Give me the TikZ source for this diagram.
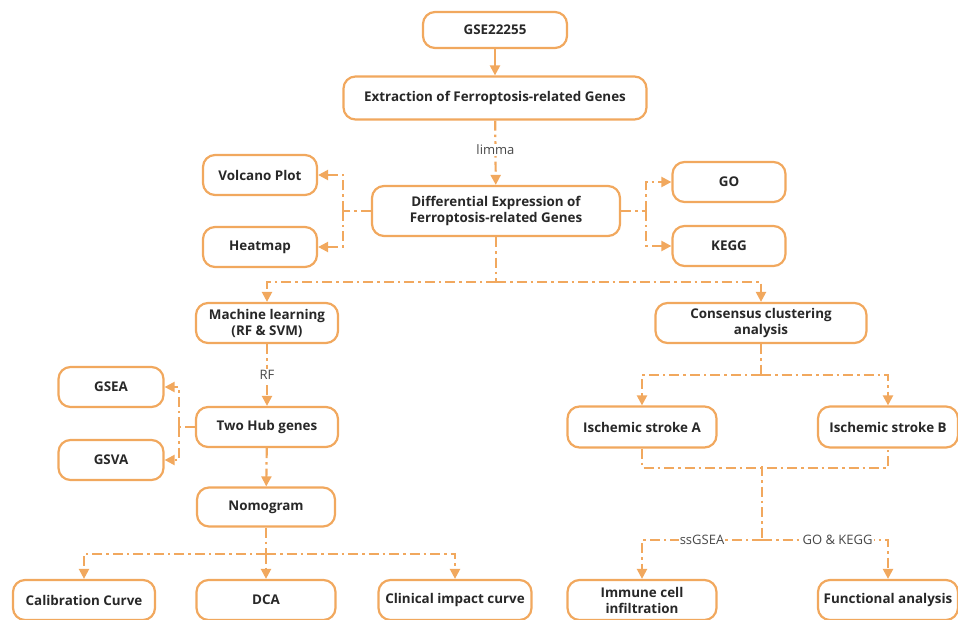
\documentclass[tikz,border=0pt]{standalone}
\usepackage{fontspec}
\setmainfont{Open Sans}
\usetikzlibrary{arrows.meta}
\definecolor{FlowOrange}{RGB}{241,168,94}
\definecolor{FlowText}{RGB}{40,40,40}

\begin{document}
\begin{tikzpicture}[x=1pt,y=-1pt,>={Triangle[length=10pt,width=10pt]},
    box/.style={draw=FlowOrange,line width=2.2pt,fill=white,rounded corners=12pt,align=center,
      text=FlowText,font=\fontsize{13.4}{16}\selectfont\bfseries,inner sep=2pt},
    link/.style={FlowOrange,line width=2.2pt,dash pattern=on 10pt off 4pt on 2.5pt off 4pt},
    lbl/.style={fill=white,text=FlowText!85,font=\fontsize{13}{15}\selectfont,inner sep=1pt}]
      \useasboundingbox (0,0) rectangle (958,620);
      % top chain
      \node[box,minimum width=144pt,minimum height=36pt] (gse) at (495,30) {GSE22255};
      \node[box,minimum width=303pt,minimum height=43pt] (extract) at (495,98) {Extraction of Ferroptosis-related Genes};
      \node[box,minimum width=248pt,minimum height=50pt] (deg) at (496,211) {Differential Expression of\\Ferroptosis-related Genes};
      \node[box,minimum width=114pt,minimum height=40pt] (volcano) at (260,175) {Volcano Plot};
      \node[box,minimum width=114pt,minimum height=40pt] (heatmap) at (260,247) {Heatmap};
      \node[box,minimum width=113pt,minimum height=40pt] (go) at (729,182) {GO};
      \node[box,minimum width=113pt,minimum height=40pt] (kegg) at (729,246) {KEGG};
      % left branch
      \node[box,minimum width=142pt,minimum height=40pt] (ml) at (267,323) {Machine learning\\(RF \& SVM)};
      \node[box,minimum width=142pt,minimum height=40pt] (hub) at (267,427) {Two Hub genes};
      \node[box,minimum width=105pt,minimum height=40pt] (gsea) at (111,387) {GSEA};
      \node[box,minimum width=105pt,minimum height=40pt] (gsva) at (111,460) {GSVA};
      \node[box,minimum width=138pt,minimum height=39pt] (nomo) at (266,507) {Nomogram};
      \node[box,minimum width=142pt,minimum height=40pt] (calib) at (84,600) {Calibration Curve};
      \node[box,minimum width=139pt,minimum height=40pt] (dca) at (266,600) {DCA};
      \node[box,minimum width=153pt,minimum height=40pt] (cic) at (455,600) {Clinical impact curve};
      % right branch
      \node[box,minimum width=211pt,minimum height=40pt] (cons) at (761,323) {Consensus clustering\\analysis};
      \node[box,minimum width=149pt,minimum height=41pt] (isa) at (642,427) {Ischemic stroke A};
      \node[box,minimum width=140pt,minimum height=41pt] (isb) at (888,427) {Ischemic stroke B};
      \node[box,minimum width=149pt,minimum height=40pt] (immune) at (642,600) {Immune cell\\infiltration};
      \node[box,minimum width=140pt,minimum height=40pt] (func) at (888,600) {Functional analysis};

      \draw[->,FlowOrange,line width=2.2pt] (gse) -- (extract);
      \draw[->,link] (extract) -- node[lbl,pos=0.45]{limma} (deg);
      \draw[link] (deg.west) -- ++(-28,0) coordinate (dleft);
      \draw[->,link] (dleft) |- (volcano);
      \draw[->,link] (dleft) |- (heatmap);
      \draw[link] (deg.east) -- ++(25,0) coordinate (dright);
      \draw[->,link] (dright) |- (go);
      \draw[->,link] (dright) |- (kegg);
      \draw[link] (deg.south) -- ++(0,45) coordinate (dsplit);
      \draw[->,link] (dsplit) -| (ml);
      \draw[->,link] (dsplit) -| (cons);

      \draw[->,link] (ml) -- node[lbl]{RF} (hub);
      \draw[link] (hub.west) -- ++(-16,0) coordinate (hleft);
      \draw[->,link] (hleft) |- (gsea);
      \draw[->,link] (hleft) |- (gsva);
      \draw[->,link] (hub) -- (nomo);
      \draw[link] (nomo.south) -- ++(0,26) coordinate (nsplit);
      \draw[->,link] (nsplit) -| (calib);
      \draw[->,link] (nsplit) -- (dca);
      \draw[->,link] (nsplit) -| (cic);

      \draw[link] (cons.south) -- ++(0,31) coordinate (csplit);
      \draw[->,link] (csplit) -| (isa);
      \draw[->,link] (csplit) -| (isb);
      \draw[link] (isa.south) -- ++(0,19) coordinate (jleft) -| (isb.south);
      \coordinate (jmid) at (762,466);
      \draw[link] (jmid) -- ++(0,74) coordinate (ksplit);
      \draw[->,link] (ksplit) -| node[lbl,pos=0.25]{ssGSEA} (immune);
      \draw[->,link] (ksplit) -| node[lbl,pos=0.3]{GO \& KEGG} (func);
    \end{tikzpicture}
\end{document}
